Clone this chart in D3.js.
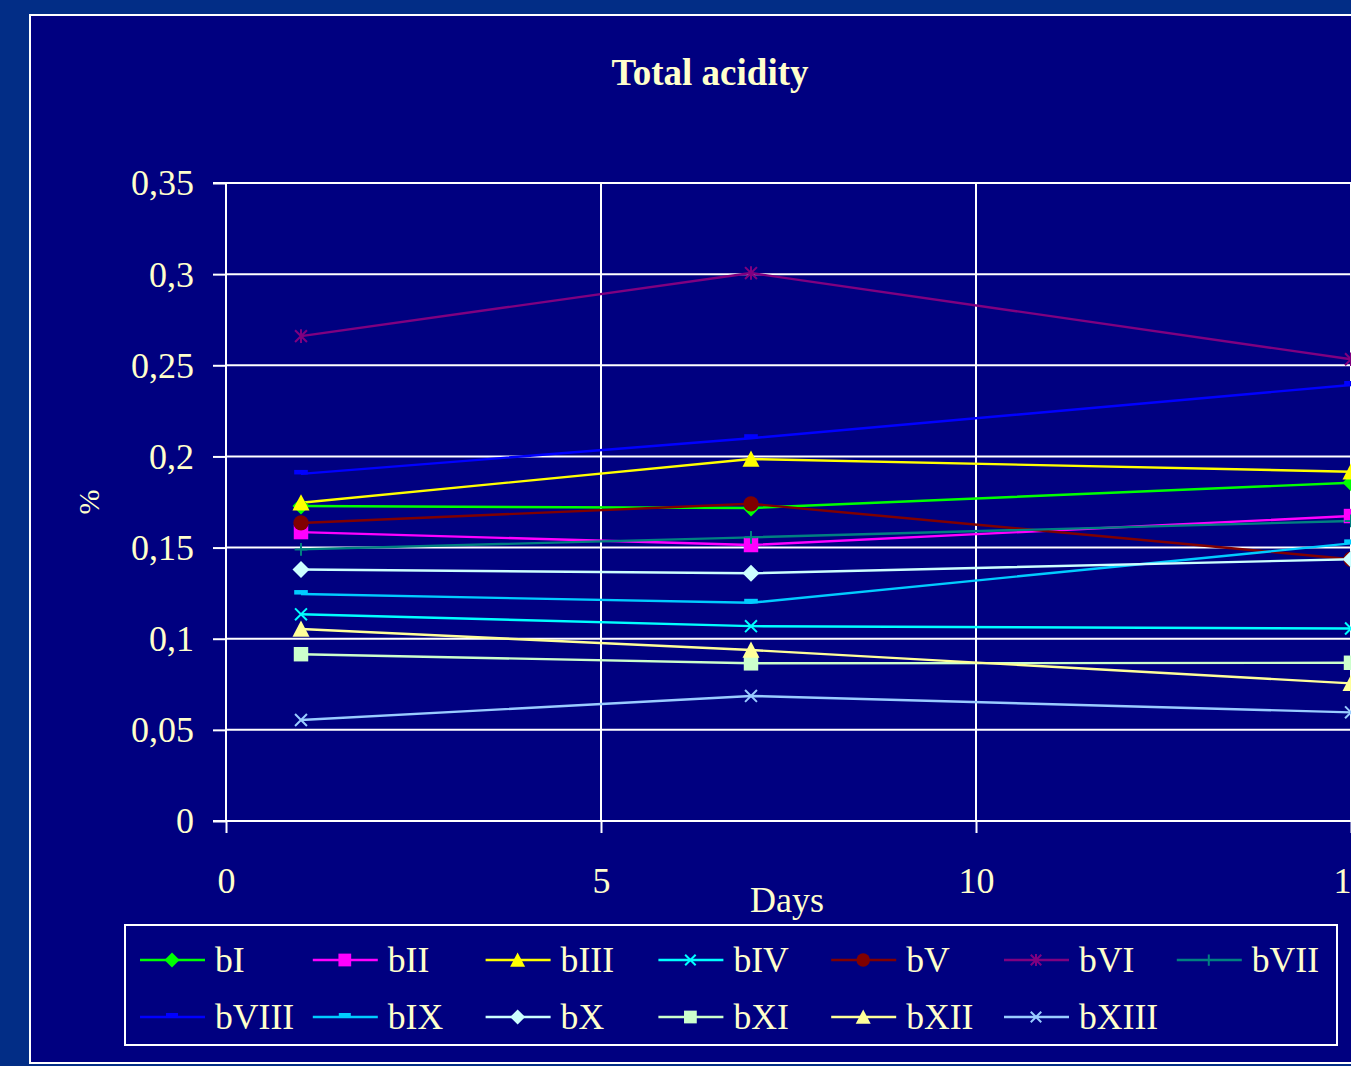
<!DOCTYPE html>
<html>
<head>
<meta charset="utf-8">
<script src="https://cdn.jsdelivr.net/npm/d3@7"></script>
<style>
  html, body { margin: 0; padding: 0; background: #022D86; overflow: hidden; }
  svg { display: block; }
  text { font-family: "Liberation Serif", "Times New Roman", serif; fill: #FFFFCC; }
</style>
</head>
<body>
<svg id="chart" width="1351" height="1066"></svg>
<script>
// ---- data ----
const days = [1, 7, 15];
const seriesNames = ["bI", "bII", "bIII", "bIV", "bV", "bVI", "bVII", "bVIII", "bIX", "bX", "bXI", "bXII", "bXIII"];
const bI    = [0.1728, 0.1717, 0.1856];
const bII   = [0.1585, 0.1514, 0.1673];
const bIII  = [0.1746, 0.1986, 0.1916];
const bIV   = [0.1134, 0.1069, 0.1056];
const bV    = [0.1635, 0.1740, 0.1436];
const bVI   = [0.2660, 0.3006, 0.2533];
const bVII  = [0.1490, 0.1556, 0.1646];
const bVIII = [0.1904, 0.2100, 0.2392];
const bIX   = [0.1245, 0.1197, 0.1523];
const bX    = [0.1380, 0.1359, 0.1436];
const bXI   = [0.0915, 0.0865, 0.0868];
const bXII  = [0.1053, 0.0938, 0.0755];
const bXIII = [0.0554, 0.0686, 0.0596];
const seriesValues = [bI, bII, bIII, bIV, bV, bVI, bVII, bVIII, bIX, bX, bXI, bXII, bXIII];
const yTicks = [0, 0.05, 0.1, 0.15, 0.2, 0.25, 0.3, 0.35];
const xTicks = [0, 5, 10, 15];
const titleText = "Total acidity";
const xLabel = "Days";
const yLabel = "%";

// ---- styles ----
const colors = ["#00FF00", "#FF00FF", "#FFFF00", "#00FFFF", "#800000", "#800080", "#008080",
                "#0000FF", "#00CCFF", "#CCFFFF", "#CCFFCC", "#FFFF99", "#99CCFF"];
const markers = ["diamond", "square", "triangle", "x", "circle", "star", "plus",
                 "dash", "dash", "diamond", "square", "triangle", "x"];

const svg = d3.select("#chart");
const frame = {x: 30, y: 15, w: 1420, h: 1048};
svg.append("rect").attr("x", frame.x).attr("y", frame.y).attr("width", frame.w).attr("height", frame.h)
  .attr("fill", "#000080").attr("stroke", "#FFFFFF").attr("stroke-width", 2);

const plot = {left: 226, right: 1351, top: 183, bottom: 821};
const x = d3.scaleLinear().domain([0, 15]).range([plot.left, plot.right]);
const y = d3.scaleLinear().domain([0, 0.35]).range([plot.bottom, plot.top]);

// title
svg.append("text").attr("x", 710).attr("y", 85).attr("text-anchor", "middle")
  .style("font-size", "37px").style("font-weight", "bold").text(titleText);

// grid
const g = svg.append("g");
g.selectAll("line.hgrid").data(yTicks.filter(d => d > 0)).join("line")
  .attr("x1", plot.left).attr("x2", plot.right + 20).attr("y1", d => y(d)).attr("y2", d => y(d))
  .attr("stroke", "#FFFFFF").attr("stroke-width", 2);
g.selectAll("line.vgrid").data(xTicks.filter(d => d > 0)).join("line")
  .attr("x1", d => x(d)).attr("x2", d => x(d)).attr("y1", plot.top).attr("y2", plot.bottom)
  .attr("stroke", "#FFFFFF").attr("stroke-width", 2);

// axes
const yAxis = d3.axisLeft(y).tickValues(yTicks).tickSize(13).tickPadding(19)
  .tickFormat(d => d3.format("~g")(d).replace(".", ","));
const yg = svg.append("g").attr("transform", `translate(${plot.left},0)`).call(yAxis);
const xAxis = d3.axisBottom(x).tickValues(xTicks).tickSize(12).tickPadding(34).tickFormat(d3.format("d"));
const xg = svg.append("g").attr("transform", `translate(0,${plot.bottom})`).call(xAxis);
[yg, xg].forEach(a => {
  a.select(".domain").attr("stroke", "#FFFFFF").attr("stroke-width", 2);
  a.selectAll(".tick line").attr("stroke", "#FFFFFF").attr("stroke-width", 2);
  a.selectAll(".tick text").attr("fill", "#FFFFCC")
    .style("font-family", '"Liberation Serif", "Times New Roman", serif').style("font-size", "36px");
});
yg.select(".domain").attr("d", `M-13,${plot.top}H0V${plot.bottom}H-13`);
yg.selectAll(".tick text").attr("dy", "0.33em");
xg.select(".domain").attr("d", `M${plot.left},0H${plot.right + 20}`);

// axis labels
svg.append("text").attr("x", 787).attr("y", 912).attr("text-anchor", "middle")
  .style("font-size", "36px").text(xLabel);
svg.append("text").attr("transform", "translate(99,502) rotate(-90)").attr("text-anchor", "middle")
  .style("font-size", "30px").text(yLabel);

// markers
function drawMarker(sel, type, color, s) {
  const h = s / 2;
  if (type === "diamond") {
    sel.append("path").attr("d", `M0,${-h}L${h},0L0,${h}L${-h},0Z`).attr("fill", color);
  } else if (type === "square") {
    sel.append("rect").attr("x", -h * 0.85).attr("y", -h * 0.85).attr("width", s * 0.85).attr("height", s * 0.85).attr("fill", color);
  } else if (type === "triangle") {
    sel.append("path").attr("d", `M0,${-h}L${h},${h * 0.9}L${-h},${h * 0.9}Z`).attr("fill", color);
  } else if (type === "circle") {
    sel.append("circle").attr("r", h * 0.9).attr("fill", color);
  } else if (type === "x") {
    const k = h * 0.7;
    sel.append("path").attr("d", `M${-k},${-k}L${k},${k}M${-k},${k}L${k},${-k}`).attr("stroke", color).attr("stroke-width", 2).attr("fill", "none");
  } else if (type === "star") {
    const k = h * 0.7;
    sel.append("path").attr("d", `M${-k},${-k}L${k},${k}M${-k},${k}L${k},${-k}M0,${-h * 0.8}L0,${h * 0.8}`).attr("stroke", color).attr("stroke-width", 2).attr("fill", "none");
  } else if (type === "plus") {
    const k = h * 0.75;
    sel.append("path").attr("d", `M${-k},0L${k},0M0,${-k}L0,${k}`).attr("stroke", color).attr("stroke-width", 2).attr("fill", "none");
  } else if (type === "dash") {
    sel.append("rect").attr("x", -h * 0.8).attr("y", -4).attr("width", s * 0.8).attr("height", 4.5).attr("fill", color);
  }
}

// series
const line = d3.line().x((d, i) => x(days[i])).y(d => y(d));
const sg = svg.append("g");
seriesValues.forEach((vals, si) => {
  sg.append("path").datum(vals).attr("d", line).attr("fill", "none")
    .attr("stroke", colors[si]).attr("stroke-width", 2.4);
});
seriesValues.forEach((vals, si) => {
  vals.forEach((v, i) => {
    const m = sg.append("g").attr("transform", `translate(${x(days[i])},${y(v)})`);
    drawMarker(m, markers[si], colors[si], 17);
  });
});

// legend
const leg = svg.append("g");
leg.append("rect").attr("x", 125).attr("y", 925).attr("width", 1212).attr("height", 120)
  .attr("fill", "none").attr("stroke", "#FFFFFF").attr("stroke-width", 2);
const colX = d3.scaleLinear().domain([0, 1]).range([140, 312.8]);
seriesNames.forEach((name, i) => {
  const col = i % 7, row = Math.floor(i / 7);
  const lx = colX(col), ly = 960 + row * 57;
  const it = leg.append("g").attr("transform", `translate(${lx},${ly})`);
  it.append("line").attr("x1", 0).attr("x2", 65).attr("y1", 0).attr("y2", 0)
    .attr("stroke", colors[i]).attr("stroke-width", 2.4);
  const m = it.append("g").attr("transform", "translate(32,0)");
  drawMarker(m, markers[i], colors[i], 15);
  it.append("text").attr("transform", "translate(75,12) scale(0.99,1)")
    .style("font-size", "36px").text(name);
});
</script>
</body>
</html>
